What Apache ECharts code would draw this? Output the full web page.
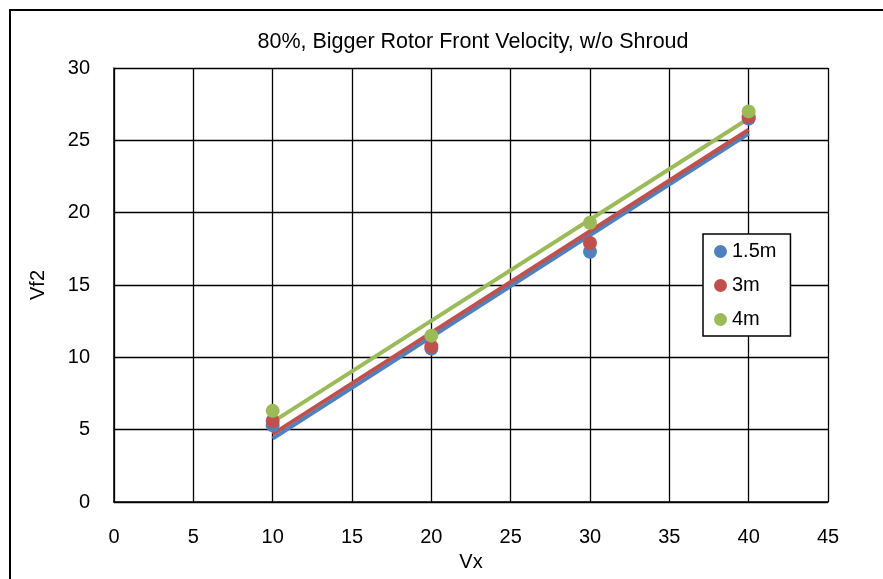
<!DOCTYPE html>
<html>
<head>
<meta charset="utf-8">
<script src="https://cdn.jsdelivr.net/npm/echarts@6/dist/echarts.min.js"></script>
<style>html,body{margin:0;padding:0;background:#fff;}#c{width:883px;height:579px;}</style>
</head>
<body>
<div id="c"></div>
<script>
const xValues = [10, 20, 30, 40];
const s15 = [5.3, 10.6, 17.3, 26.5];
const s3 = [5.6, 10.75, 17.9, 26.6];
const s4 = [6.3, 11.5, 19.3, 27.0];
const seriesNames = ['1.5m', '3m', '4m'];
const colors = ['#4F81BD', '#C0504D', '#9BBB59'];
const xTicks = [0, 5, 10, 15, 20, 25, 30, 35, 40, 45];
const yTicks = [0, 5, 10, 15, 20, 25, 30];

function fit(xs, ys) {
  const n = xs.length;
  const mx = xs.reduce((a, b) => a + b, 0) / n;
  const my = ys.reduce((a, b) => a + b, 0) / n;
  let sxy = 0, sxx = 0;
  for (let i = 0; i < n; i++) { sxy += (xs[i] - mx) * (ys[i] - my); sxx += (xs[i] - mx) ** 2; }
  const b = sxy / sxx, a = my - b * mx;
  const x0 = Math.min(...xs), x1 = Math.max(...xs);
  return [[x0, a + b * x0], [x1, a + b * x1]];
}

const allY = [s15, s3, s4];
const series = [];
allY.forEach((ys, i) => {
  series.push({
    name: seriesNames[i] + ' trend', type: 'line', data: fit(xValues, ys),
    showSymbol: false, symbol: 'none', lineStyle: { color: colors[i], width: 4 },
    itemStyle: { color: colors[i] }, z: 2, silent: true
  });
});
allY.forEach((ys, i) => {
  series.push({
    name: seriesNames[i], type: 'scatter', data: xValues.map((x, j) => [x, ys[j]]),
    symbol: 'circle', symbolSize: 14, itemStyle: { color: colors[i], opacity: 1 }, z: 3 + i
  });
});

const chart = echarts.init(document.getElementById('c'));
const font = 'Liberation Sans, Arial, sans-serif';
chart.setOption({
  animation: false,
  backgroundColor: '#fff',
  textStyle: { fontFamily: font },
  title: {
    text: '80%, Bigger Rotor Front Velocity, w/o Shroud', left: 468, top: 26, textAlign: 'center',
    textStyle: { fontSize: 21.5, fontWeight: 'normal', color: '#000', fontFamily: font }
  },
  graphic: [{
    type: 'rect', shape: { x: 10, y: 10, width: 900, height: 600 },
    style: { fill: 'none', stroke: '#000', lineWidth: 2 }, silent: true, z: -1
  }],
  legend: {
    data: seriesNames, orient: 'vertical', left: 703, top: 234,
    icon: 'circle', itemWidth: 13, itemHeight: 13, itemGap: 13,
    padding: [7, 14, 6, 11],
    backgroundColor: '#fff', borderColor: '#000', borderWidth: 1.5,
    textStyle: { fontSize: 20, color: '#000', fontFamily: font, lineHeight: 21 }
  },
  grid: { left: 114, right: 55, top: 68, bottom: 77, containLabel: false },
  xAxis: {
    type: 'value', min: 0, max: 45, interval: 5,
    name: 'Vx', nameLocation: 'middle', nameGap: 50,
    nameTextStyle: { fontSize: 20, color: '#000', fontFamily: font },
    axisLine: { show: true, lineStyle: { color: '#000', width: 1.5 } },
    axisTick: { show: false },
    axisLabel: { fontSize: 20, color: '#000', margin: 25, fontFamily: font },
    splitLine: { show: true, lineStyle: { color: '#000', width: 1.3 } }
  },
  yAxis: {
    type: 'value', min: 0, max: 30, interval: 5,
    name: 'Vf2', nameLocation: 'middle', nameGap: 66, nameRotate: 90,
    nameTextStyle: { fontSize: 20, color: '#000', fontFamily: font },
    axisLine: { show: true, lineStyle: { color: '#000', width: 1.5 } },
    axisTick: { show: false },
    axisLabel: { fontSize: 20, color: '#000', margin: 24, fontFamily: font },
    splitLine: { show: true, lineStyle: { color: '#000', width: 1.3 } }
  },
  series: series
});
</script>
</body>
</html>
